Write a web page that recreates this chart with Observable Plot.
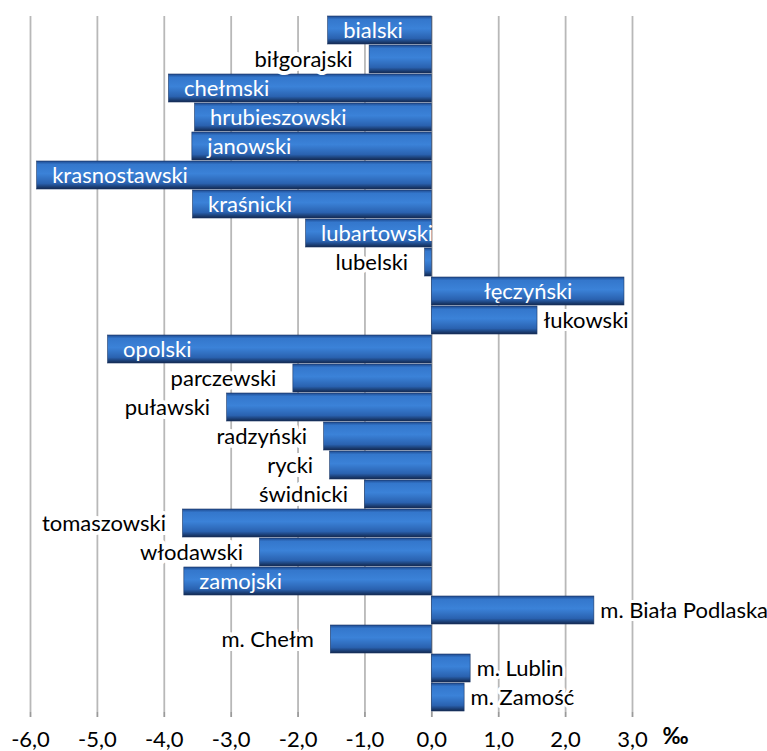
<!DOCTYPE html>
<html><head><meta charset="utf-8">
<script src="https://cdn.jsdelivr.net/npm/d3@7"></script>
<script src="https://cdn.jsdelivr.net/npm/@observablehq/plot@0.6"></script>
<style>body{margin:0;background:#fff} svg{display:block}</style>
</head><body><div id="chart"></div>
<script>
const categories = ["bialski","biłgorajski","chełmski","hrubieszowski","janowski","krasnostawski","kraśnicki","lubartowski","lubelski","łęczyński","łukowski","opolski","parczewski","puławski","radzyński","rycki","świdnicki","tomaszowski","włodawski","zamojski","m. Biała Podlaska","m. Chełm","m. Lublin","m. Zamość"];
const values = [-1.55,-0.93,-3.93,-3.54,-3.58,-5.9,-3.57,-1.88,-0.1,2.88,1.58,-4.84,-2.07,-3.06,-1.61,-1.52,-1.0,-3.72,-2.57,-3.7,2.43,-1.51,0.58,0.49];
const labelInside = [true,false,true,true,true,true,true,true,false,true,false,true,false,false,false,false,false,false,false,true,false,false,false,false];
const xTicks = [-6,-5,-4,-3,-2,-1,0,1,2,3];
const unitLabel = "‰";

const data = categories.map((c,i)=>({name:c, value:values[i], inside:labelInside[i]}));
const font = "Lato";
const fs = 22;
const fmt = d => d.toFixed(1).replace(".", ",");

const insideNeg = data.filter(d=>d.inside && d.value<0);
const insidePos = data.filter(d=>d.inside && d.value>=0);
const outNeg = data.filter(d=>!d.inside && d.value<0);
const outPos = data.filter(d=>!d.inside && d.value>=0);

const chart = Plot.plot({
  width: 767, height: 751,
  marginLeft: 30, marginRight: 135, marginTop: 16, marginBottom: 39,
  style: {fontFamily: font, fontSize: fs + "px", color: "#000", background: "#fff"},
  x: {domain: [-6, 3], ticks: xTicks, tickFormat: fmt, label: null},
  y: {domain: categories, axis: null, paddingInner: 0.03, paddingOuter: 0.01},
  marks: [
    Plot.ruleX(xTicks, {stroke: "#b8b8b8", strokeWidth: 1.8}),
    Plot.barX(data, {x: "value", y: "name", fill: "url(#barGrad)", stroke: "#1b3766", strokeWidth: 0.6}),
    Plot.ruleY([0], {frameAnchor: "bottom", stroke: "#9a9a9a", strokeWidth: 2}),
    Plot.text(outNeg, {x: "value", y: "name", text: "name", textAnchor: "end", dx: -17, fill: "#000", stroke: "#fff", strokeWidth: 8, fontSize: fs}),
    Plot.text(outPos, {x: "value", y: "name", text: "name", textAnchor: "start", dx: 6, fill: "#000", stroke: "#fff", strokeWidth: 6, fontSize: fs}),
    Plot.text(insideNeg, {x: "value", y: "name", text: "name", textAnchor: "start", dx: 15, fill: "#fff", fontSize: fs}),
    Plot.text(insidePos, {x: d => d.value / 2, y: "name", text: "name", textAnchor: "middle", fill: "#fff", fontSize: fs}),
    Plot.axisX({ticks: xTicks, tickFormat: fmt, tickSize: 5, tickPadding: 14, stroke: "#9a9a9a", strokeWidth: 1.8, fill: "#000", fontSize: fs}),
    Plot.text([unitLabel], {frameAnchor: "bottom-right", dx: 56, dy: 31, fontWeight: "bold", fontSize: fs, fill: "#000"})
  ]
});

const svgNS = "http://www.w3.org/2000/svg";
const defs = document.createElementNS(svgNS, "defs");
defs.innerHTML = `<linearGradient id="barGrad" x1="0" y1="0" x2="0" y2="1">
  <stop offset="0" stop-color="#1e4a8f"/>
  <stop offset="0.12" stop-color="#3477cc"/>
  <stop offset="0.45" stop-color="#3b82d8"/>
  <stop offset="0.8" stop-color="#2a62b0"/>
  <stop offset="1" stop-color="#12284f"/>
</linearGradient>`;
chart.insertBefore(defs, chart.firstChild);
document.getElementById("chart").appendChild(chart);
</script>
</body></html>
